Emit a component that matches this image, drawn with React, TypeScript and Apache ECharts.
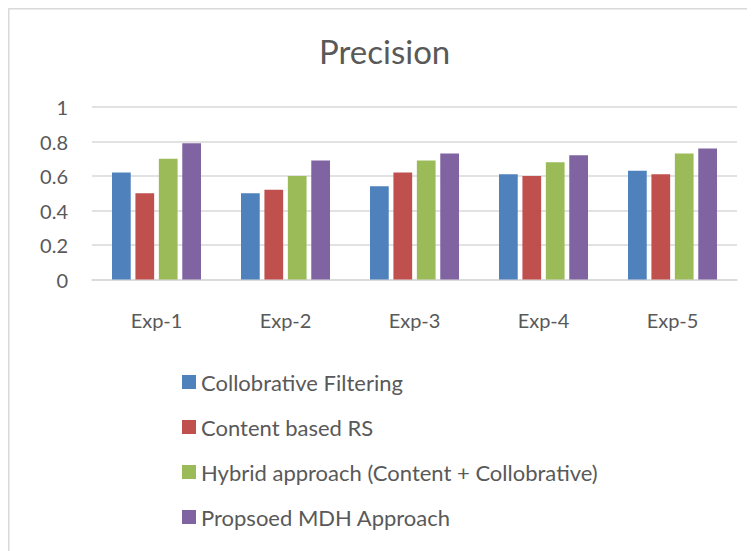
import React, { useEffect, useRef } from "react";
import * as echarts from "echarts";

const categories = ["Exp-1", "Exp-2", "Exp-3", "Exp-4", "Exp-5"];
const collaborative = [0.62, 0.5, 0.54, 0.61, 0.63];
const contentBased = [0.5, 0.52, 0.62, 0.6, 0.61];
const hybrid = [0.7, 0.6, 0.69, 0.68, 0.73];
const proposed = [0.79, 0.69, 0.73, 0.72, 0.76];
const seriesNames = [
  "Collobrative Filtering",
  "Content based RS",
  "Hybrid approach (Content + Collobrative)",
  "Propsoed MDH Approach",
];
const colors = ["#4F81BD", "#C0504D", "#9BBB59", "#8064A2"];

const FONT = "Lato";
const TEXT = "#595959";

export default function App() {
  const ref = useRef<HTMLDivElement>(null);
  useEffect(() => {
    document.documentElement.style.overflow = "hidden";
    document.body.style.overflow = "hidden";
    const chart = echarts.init(ref.current!, null, { renderer: "svg" });
    const data = [collaborative, contentBased, hybrid, proposed];
    chart.setOption({
      animation: false,
      color: colors,
      textStyle: { fontFamily: FONT },
      title: {
        text: "Precision",
        left: 306,
        top: 21,
        textStyle: { fontFamily: FONT, fontSize: 33, fontWeight: "normal", color: TEXT },
      },
      graphic: [
        { type: "line", shape: { x1: 0.5, y1: 0.5, x2: 747, y2: 0.5 }, style: { stroke: "#d9d9d9", lineWidth: 2 } },
        { type: "line", shape: { x1: 0.5, y1: 0.5, x2: 0.5, y2: 543 }, style: { stroke: "#d9d9d9", lineWidth: 2 } },
      ],
      grid: { left: 84, right: 18, top: 99, bottom: 271.5, containLabel: false },
      legend: {
        orient: "vertical",
        left: 169,
        top: 358,
        itemWidth: 14,
        itemHeight: 14,
        itemGap: 23,
        icon: "rect",
        data: seriesNames,
        textStyle: { fontFamily: FONT, fontSize: 22, color: TEXT },
      },
      xAxis: {
        type: "category",
        data: categories,
        axisTick: { show: false },
        axisLine: { lineStyle: { color: "#d9d9d9", width: 1.5 } },
        axisLabel: { fontFamily: FONT, fontSize: 20, color: TEXT, margin: 30 },
      },
      yAxis: {
        type: "value",
        min: 0,
        max: 1,
        interval: 0.2,
        axisLine: { show: false },
        axisTick: { show: false },
        splitLine: { lineStyle: { color: "#d9d9d9", width: 1.5 } },
        axisLabel: {
          fontFamily: FONT,
          fontSize: 20,
          color: TEXT,
          margin: 24,
          formatter: (v: number) => String(Math.round(v * 10) / 10),
        },
      },
      series: seriesNames.map((name, i) => ({
        name,
        type: "bar",
        data: data[i],
        barGap: "25%",
        barCategoryGap: "31%",
        itemStyle: { color: colors[i] },
      })),
    });
    return () => chart.dispose();
  }, []);
  return <div ref={ref} style={{ width: 747, height: 543 }} />;
}
